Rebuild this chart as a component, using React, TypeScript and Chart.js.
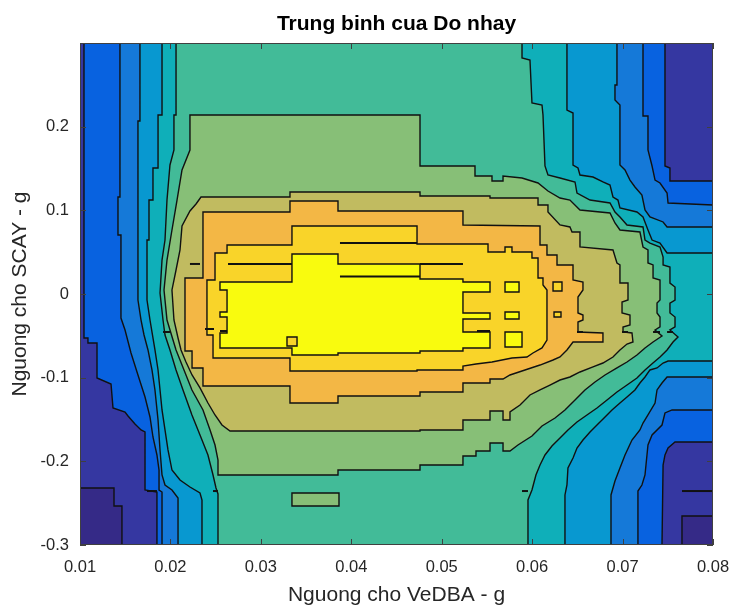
import React, { useEffect, useRef } from 'react';
import { Chart, registerables } from 'chart.js';

Chart.register(...registerables);

type Pt = [number, number];

// axis ticks
const xTicks = [0.01, 0.02, 0.03, 0.04, 0.05, 0.06, 0.07, 0.08];
const yTicks = [-0.3, -0.2, -0.1, 0, 0.1, 0.2];

// level fill colours (parula), index = contour level
const levelColors = ['#352a87', '#3537a1', '#0862e0', '#1579d8', '#0898d0', '#0fafb9', '#42bb98', '#87bf77', '#c1bb60', '#f3b745', '#f9d429', '#f9fb0e'];

// contour regions (x = VeDBA threshold, y = SCAY threshold)
const darkNavyLeft: Pt[] = [[0.01, -0.2319], [0.01376, -0.2319], [0.01376, -0.2534], [0.01464, -0.2534], [0.01464, -0.3], [0.01, -0.3]];
const darkNavyRight: Pt[] = [[0.07657, -0.2653], [0.08, -0.2653], [0.08, -0.3], [0.07657, -0.3]];

const level2: Pt[] = [[0.01044, 0.3], [0.01044, -0.0526], [0.01088, -0.0526], [0.01088, -0.0586], [0.01188, -0.0586], [0.01188, -0.1004], [0.01343, -0.1076], [0.01365, -0.1362], [0.01498, -0.141], [0.01531, -0.1458], [0.01608, -0.1554], [0.01675, -0.1625], [0.01719, -0.1649], [0.01719, -0.2343], [0.01851, -0.2367], [0.01851, -0.3], [0.07436, -0.3], [0.07448, -0.2044], [0.07469, -0.1924], [0.07503, -0.1841], [0.0758, -0.1769], [0.08, -0.1769], [0.08, 0.1351], [0.07524, 0.1351], [0.07524, 0.1506], [0.07469, 0.153], [0.07469, 0.3]];

const level3: Pt[] = [[0.01442, 0.3], [0.01442, 0.1159], [0.0142, 0.1159], [0.0142, 0.0705], [0.01453, 0.0705], [0.01453, -0.0287], [0.01498, -0.043], [0.01564, -0.0705], [0.01641, -0.0968], [0.01719, -0.1231], [0.01774, -0.147], [0.01807, -0.1709], [0.01851, -0.1924], [0.01874, -0.2104], [0.01874, -0.2343], [0.01907, -0.2367], [0.01907, -0.3], [0.0717, -0.3], [0.0717, -0.2355], [0.07214, -0.2283], [0.07248, -0.2163], [0.07281, -0.1805], [0.07326, -0.1685], [0.07436, -0.1566], [0.07469, -0.1422], [0.07547, -0.1386], [0.08, -0.1386], [0.08, 0.1064], [0.07503, 0.1088], [0.07492, 0.1207], [0.07414, 0.1327], [0.07359, 0.1362], [0.07326, 0.153], [0.07281, 0.1721], [0.07281, 0.2127], [0.07226, 0.2127], [0.07226, 0.3]];

const level4: Pt[] = [[0.01663, 0.3], [0.01663, 0.2068], [0.01641, 0.2068], [0.01641, -0.0072], [0.01675, -0.0311], [0.01708, -0.049], [0.01752, -0.0669], [0.01796, -0.0908], [0.01829, -0.1147], [0.01863, -0.1506], [0.01885, -0.1864], [0.01907, -0.2163], [0.0194, -0.2283], [0.02017, -0.2343], [0.02084, -0.2438], [0.02084, -0.3], [0.06872, -0.3], [0.06872, -0.2402], [0.06916, -0.2235], [0.06971, -0.208], [0.07027, -0.1924], [0.07104, -0.1745], [0.07192, -0.1625], [0.07226, -0.1542], [0.07281, -0.1446], [0.07359, -0.1303], [0.07381, -0.1147], [0.07436, -0.1064], [0.07492, -0.0992], [0.08, -0.0992], [0.08, 0.0801], [0.07492, 0.0801], [0.07448, 0.0861], [0.07303, 0.092], [0.07248, 0.1004], [0.07214, 0.1183], [0.07137, 0.1279], [0.07082, 0.1362], [0.07027, 0.1482], [0.06971, 0.1542], [0.06971, 0.2259], [0.06916, 0.2319], [0.06916, 0.2498], [0.06938, 0.2498], [0.06938, 0.3]];

const level5: Pt[] = [[0.01907, 0.3], [0.01907, 0.2139], [0.01863, 0.2139], [0.01863, 0.1506], [0.01807, 0.1506], [0.01807, 0.1123], [0.01763, 0.1123], [0.01763, 0.0645], [0.01741, 0.0645], [0.01741, -0.0072], [0.01774, -0.0311], [0.01829, -0.0669], [0.01863, -0.0908], [0.01885, -0.1147], [0.01907, -0.1386], [0.0194, -0.1625], [0.01973, -0.1864], [0.02017, -0.2104], [0.02106, -0.2223], [0.02216, -0.2307], [0.02327, -0.2378], [0.02349, -0.2462], [0.02349, -0.3], [0.06363, -0.3], [0.06363, -0.2402], [0.06385, -0.2283], [0.06396, -0.208], [0.06452, -0.196], [0.06496, -0.1841], [0.06562, -0.1745], [0.0664, -0.1649], [0.06717, -0.1566], [0.06806, -0.147], [0.06883, -0.1386], [0.06971, -0.1303], [0.07049, -0.1231], [0.07137, -0.1147], [0.07192, -0.1064], [0.07248, -0.0992], [0.07303, -0.0908], [0.07381, -0.0884], [0.07448, -0.0825], [0.07503, -0.0801], [0.08, -0.0801], [0.08, 0.049], [0.07492, 0.049], [0.07414, 0.0609], [0.07326, 0.0645], [0.07281, 0.0765], [0.07226, 0.092], [0.07159, 0.098], [0.06971, 0.1028], [0.06949, 0.1123], [0.06894, 0.1159], [0.06861, 0.1303], [0.06783, 0.1339], [0.06673, 0.1398], [0.06529, 0.1422], [0.06507, 0.1506], [0.06452, 0.1542], [0.06452, 0.2163], [0.06385, 0.2199], [0.06385, 0.3]];

const level6: Pt[] = [[0.02062, 0.3], [0.02062, 0.2139], [0.02039, 0.2139], [0.02039, 0.1721], [0.01995, 0.1542], [0.01962, 0.1123], [0.0194, 0.0645], [0.01907, 0.0406], [0.01885, 0.0012], [0.01918, -0.0311], [0.0194, -0.049], [0.01995, -0.0669], [0.02062, -0.0908], [0.02139, -0.1147], [0.02238, -0.1446], [0.02327, -0.1685], [0.02415, -0.1924], [0.02471, -0.2163], [0.02504, -0.2319], [0.02526, -0.239], [0.02526, -0.3], [0.05954, -0.3], [0.05954, -0.2462], [0.05998, -0.2343], [0.06042, -0.2163], [0.06087, -0.2044], [0.06142, -0.1924], [0.06219, -0.1817], [0.06308, -0.1721], [0.06396, -0.1625], [0.06496, -0.153], [0.06606, -0.1446], [0.06717, -0.1362], [0.06828, -0.1267], [0.06938, -0.1171], [0.07049, -0.1088], [0.07159, -0.1004], [0.07248, -0.0908], [0.07336, -0.0825], [0.07414, -0.0753], [0.07492, -0.0669], [0.07558, -0.0574], [0.07613, -0.0514], [0.07524, -0.043], [0.0758, -0.0394], [0.0758, -0.0275], [0.07524, -0.0227], [0.07524, -0.0108], [0.0758, -0.0072], [0.0758, 0.0084], [0.07524, 0.0131], [0.07524, 0.0323], [0.07448, 0.0347], [0.07448, 0.0442], [0.07414, 0.0562], [0.07303, 0.0609], [0.07248, 0.0645], [0.07226, 0.0801], [0.07049, 0.0825], [0.06971, 0.092], [0.06916, 0.098], [0.06861, 0.1088], [0.0664, 0.1123], [0.06496, 0.1207], [0.06474, 0.1339], [0.06308, 0.1386], [0.06175, 0.1422], [0.06142, 0.153], [0.0612, 0.2139], [0.06109, 0.2259], [0.05998, 0.2283], [0.05976, 0.2797], [0.05888, 0.2821], [0.05888, 0.3]];

const level7: Pt[] = [[0.02216, 0.2139], [0.0476, 0.2139], [0.0476, 0.153], [0.05368, 0.153], [0.05368, 0.141], [0.05556, 0.141], [0.05556, 0.1351], [0.05678, 0.1351], [0.05678, 0.141], [0.05888, 0.1386], [0.06065, 0.1327], [0.06175, 0.1231], [0.06308, 0.1147], [0.06418, 0.1123], [0.06529, 0.1004], [0.06861, 0.0968], [0.06916, 0.0849], [0.06971, 0.0765], [0.07192, 0.0741], [0.07226, 0.0562], [0.07281, 0.0526], [0.07281, 0.0371], [0.07337, 0.0347], [0.07337, 0.0191], [0.07414, 0.0167], [0.07414, -0.0072], [0.07381, -0.0108], [0.07381, -0.0227], [0.07414, -0.0275], [0.07414, -0.0394], [0.07359, -0.043], [0.07436, -0.0502], [0.07337, -0.0574], [0.07248, -0.0645], [0.07159, -0.0729], [0.07049, -0.0813], [0.06938, -0.0884], [0.06806, -0.0968], [0.06695, -0.1052], [0.06584, -0.1147], [0.06474, -0.1267], [0.06363, -0.1386], [0.06253, -0.1482], [0.06109, -0.1578], [0.05998, -0.1697], [0.05843, -0.1805], [0.05755, -0.1876], [0.05678, -0.1876], [0.05678, -0.1781], [0.05534, -0.1781], [0.05534, -0.1876], [0.05379, -0.1876], [0.05379, -0.1936], [0.05235, -0.1936], [0.05235, -0.2044], [0.0476, -0.2044], [0.0476, -0.2104], [0.03853, -0.2104], [0.03853, -0.2163], [0.02526, -0.2163], [0.02526, -0.1984], [0.02493, -0.1805], [0.02438, -0.1625], [0.0236, -0.1386], [0.02238, -0.1147], [0.0215, -0.0908], [0.02062, -0.0669], [0.01962, -0.0311], [0.01929, 0.0048], [0.01962, 0.0406], [0.02017, 0.0765], [0.02073, 0.1123], [0.02128, 0.1482], [0.02216, 0.1721]];

const level7Island: Pt[] = [[0.03344, -0.2378], [0.03864, -0.2378], [0.03864, -0.2534], [0.03344, -0.2534]];

const level8: Pt[] = [[0.02338, 0.1159], [0.03322, 0.1159], [0.03322, 0.1219], [0.0476, 0.1219], [0.0476, 0.1171], [0.05534, 0.1171], [0.05534, 0.1147], [0.06065, 0.1147], [0.06065, 0.1064], [0.06175, 0.1064], [0.06175, 0.098], [0.06308, 0.0825], [0.06418, 0.0801], [0.06441, 0.0741], [0.06529, 0.0741], [0.06529, 0.0562], [0.06894, 0.0526], [0.06938, 0.0371], [0.06971, 0.0347], [0.06971, 0.0131], [0.0706, 0.0131], [0.0706, -0.0072], [0.06994, -0.0096], [0.06994, -0.0227], [0.07082, -0.0251], [0.07082, -0.0371], [0.07005, -0.0394], [0.07005, -0.0454], [0.07104, -0.0466], [0.07115, -0.0574], [0.07049, -0.0598], [0.06971, -0.0669], [0.06894, -0.0753], [0.06783, -0.0825], [0.06673, -0.0872], [0.06529, -0.0932], [0.06418, -0.0992], [0.06308, -0.1028], [0.06197, -0.1088], [0.06087, -0.1147], [0.05976, -0.1207], [0.05866, -0.1327], [0.05755, -0.141], [0.05755, -0.1506], [0.05678, -0.1506], [0.05678, -0.1398], [0.05534, -0.1398], [0.05534, -0.1506], [0.05235, -0.1506], [0.05235, -0.1625], [0.0476, -0.1625], [0.0476, -0.1637], [0.02659, -0.1637], [0.0257, -0.1566], [0.02493, -0.1446], [0.02415, -0.1303], [0.02327, -0.1123], [0.02239, -0.0968], [0.02172, -0.0813], [0.02117, -0.0669], [0.02084, -0.0526], [0.02039, -0.0311], [0.02017, 0.0048], [0.02062, 0.0287], [0.02106, 0.0526], [0.02128, 0.0813], [0.02216, 0.0992], [0.02283, 0.1076]];

const level9: Pt[] = [[0.0236, 0.098], [0.03322, 0.098], [0.03322, 0.1112], [0.03853, 0.1112], [0.03853, 0.0992], [0.05235, 0.0992], [0.05235, 0.0825], [0.06087, 0.0813], [0.06087, 0.0586], [0.06164, 0.0586], [0.06164, 0.0466], [0.06275, 0.0466], [0.06275, 0.0347], [0.06452, 0.0347], [0.06452, 0.0167], [0.06562, 0.0143], [0.06562, 0.0048], [0.06507, -0.0036], [0.06507, -0.0227], [0.06562, -0.0251], [0.06562, -0.0311], [0.06507, -0.0335], [0.06507, -0.0454], [0.06783, -0.0466], [0.06783, -0.0574], [0.06452, -0.0574], [0.06385, -0.0669], [0.06308, -0.0753], [0.06231, -0.0789], [0.06087, -0.0849], [0.05921, -0.0908], [0.05755, -0.0968], [0.05678, -0.1016], [0.05534, -0.1016], [0.05534, -0.1064], [0.05235, -0.1064], [0.05235, -0.1171], [0.0476, -0.1171], [0.0476, -0.1219], [0.03853, -0.1219], [0.03853, -0.1303], [0.03322, -0.1303], [0.03322, -0.11], [0.0236, -0.11], [0.0236, -0.0884], [0.02239, -0.0884], [0.02239, -0.0681], [0.02161, -0.0681], [0.02161, 0.0191], [0.0236, 0.0191]];

const level10: Pt[] = [[0.02626, 0.0586], [0.03344, 0.0586], [0.03344, 0.0813], [0.04727, 0.0813], [0.04727, 0.0598], [0.05512, 0.0598], [0.05512, 0.0502], [0.057, 0.0502], [0.057, 0.0562], [0.05777, 0.0562], [0.05777, 0.0502], [0.05998, 0.0502], [0.05998, 0.043], [0.06065, 0.043], [0.06065, 0.0191], [0.0612, 0.0191], [0.0612, 0.0108], [0.06164, 0.0048], [0.06164, -0.055], [0.06109, -0.0645], [0.06009, -0.0705], [0.05943, -0.0753], [0.05777, -0.0765], [0.05556, -0.0813], [0.05379, -0.0837], [0.05235, -0.0861], [0.05235, -0.0908], [0.04727, -0.0908], [0.04727, -0.092], [0.03322, -0.092], [0.03322, -0.0765], [0.02471, -0.0765], [0.02471, -0.049], [0.02404, -0.049], [0.02404, 0.0167], [0.02493, 0.0167], [0.02493, 0.049], [0.02626, 0.049]];

const level10IslandA: Pt[] = [[0.06231, 0.0143], [0.0633, 0.0143], [0.0633, 0.0036], [0.06231, 0.0036]];
const level10IslandB: Pt[] = [[0.06242, -0.0215], [0.06319, -0.0215], [0.06319, -0.0275], [0.06242, -0.0275]];
const level10IslandC: Pt[] = [[0.03289, -0.0514], [0.034, -0.0514], [0.034, -0.0621], [0.03289, -0.0621]];

const level11: Pt[] = [[0.02548, 0.0143], [0.03344, 0.0143], [0.03344, 0.0478], [0.03853, 0.0478], [0.03853, 0.0359], [0.0476, 0.0359], [0.0476, 0.0179], [0.05235, 0.0179], [0.05235, 0.0143], [0.05534, 0.0143], [0.05534, 0.0024], [0.05235, 0.0024], [0.05235, -0.0227], [0.05534, -0.0227], [0.05534, -0.0299], [0.05235, -0.0299], [0.05235, -0.0454], [0.05534, -0.0454], [0.05534, -0.0645], [0.05235, -0.0645], [0.05235, -0.0681], [0.0476, -0.0681], [0.0476, -0.0705], [0.03853, -0.0705], [0.03853, -0.0729], [0.03344, -0.0729], [0.03344, -0.0645], [0.02548, -0.0645], [0.02548, -0.0466], [0.02626, -0.0466], [0.02626, -0.0275], [0.02548, -0.0275], [0.02548, -0.0215], [0.02626, -0.0215], [0.02626, 0.0048], [0.02548, 0.0048]];

const level11IslandA: Pt[] = [[0.057, 0.0143], [0.05855, 0.0143], [0.05855, 0.0024], [0.057, 0.0024]];
const level11IslandB: Pt[] = [[0.057, -0.0215], [0.05855, -0.0215], [0.05855, -0.0299], [0.057, -0.0299]];
const level11IslandC: Pt[] = [[0.057, -0.0454], [0.05888, -0.0454], [0.05888, -0.0633], [0.057, -0.0633]];

// zero-width contour slivers: [x1, y1, x2, y2]
const slivers: [number, number, number, number][] = [
  [0.03875, 0.061, 0.04727, 0.061],
  [0.02637, 0.0359, 0.03344, 0.0359],
  [0.03875, 0.0209, 0.0476, 0.0209],
  [0.0476, 0.0359, 0.05235, 0.0359],
  [0.02382, -0.0418, 0.02482, -0.0418],
  [0.02548, -0.0442, 0.02626, -0.0442],
  [0.0539, -0.0442, 0.05534, -0.0442],
  [0.06496, -0.0454, 0.06562, -0.0454],
  [0.06994, -0.0454, 0.0706, -0.0454],
  [0.07337, -0.0454, 0.07414, -0.0454],
  [0.07492, -0.0454, 0.07558, -0.0454],
  [0.01741, -0.2355, 0.01851, -0.2355],
  [0.02471, -0.2355, 0.02526, -0.2355],
  [0.05888, -0.2355, 0.05954, -0.2355],
  [0.07657, -0.2355, 0.08, -0.2355],
  [0.02216, 0.0359, 0.02327, 0.0359],
  [0.01918, -0.0454, 0.01995, -0.0454],
];

const regions: { level: number; pts: Pt[] }[] = [
  { level: 0, pts: darkNavyLeft },
  { level: 0, pts: darkNavyRight },
  { level: 2, pts: level2 },
  { level: 3, pts: level3 },
  { level: 4, pts: level4 },
  { level: 5, pts: level5 },
  { level: 6, pts: level6 },
  { level: 7, pts: level7 },
  { level: 7, pts: level7Island },
  { level: 8, pts: level8 },
  { level: 9, pts: level9 },
  { level: 10, pts: level10 },
  { level: 10, pts: level10IslandA },
  { level: 10, pts: level10IslandB },
  { level: 11, pts: level11 },
  { level: 11, pts: level11IslandA },
  { level: 11, pts: level11IslandB },
  { level: 11, pts: level11IslandC },
  { level: 10, pts: level10IslandC },
];

const FONT = "'Liberation Sans', Arial, Helvetica, sans-serif";

const contourPlugin = {
  id: 'contourFill',
  beforeDatasetsDraw(chart: any) {
    const { ctx, chartArea: a, scales } = chart;
    const xs = scales.x;
    const ys = scales.y;
    ctx.save();
    ctx.beginPath();
    ctx.rect(a.left, a.top, a.right - a.left, a.bottom - a.top);
    ctx.clip();
    ctx.fillStyle = levelColors[1];
    ctx.fillRect(a.left, a.top, a.right - a.left, a.bottom - a.top);
    const trace = (pts: Pt[]) => {
      ctx.beginPath();
      pts.forEach(([vx, vy], i) => {
        const px = xs.getPixelForValue(vx);
        const py = ys.getPixelForValue(vy);
        if (i === 0) ctx.moveTo(px, py);
        else ctx.lineTo(px, py);
      });
      ctx.closePath();
    };
    for (const r of regions) {
      trace(r.pts);
      ctx.fillStyle = levelColors[r.level];
      ctx.fill();
    }
    ctx.strokeStyle = '#111111';
    ctx.lineWidth = 1.4;
    ctx.lineJoin = 'miter';
    for (const r of regions) {
      trace(r.pts);
      ctx.stroke();
    }
    for (const [x1, y1, x2, y2] of slivers) {
      ctx.beginPath();
      ctx.moveTo(xs.getPixelForValue(x1), ys.getPixelForValue(y1));
      ctx.lineTo(xs.getPixelForValue(x2), ys.getPixelForValue(y2));
      ctx.lineWidth = 2;
      ctx.stroke();
    }
    ctx.restore();
  },
  afterDatasetsDraw(chart: any) {
    const { ctx, chartArea: a, scales } = chart;
    const xs = scales.x;
    const ys = scales.y;
    ctx.save();
    ctx.strokeStyle = '#404040';
    ctx.lineWidth = 1;
    const tl = 6;
    ctx.beginPath();
    for (const v of xTicks) {
      const px = Math.round(xs.getPixelForValue(v)) + 0.5;
      ctx.moveTo(px, a.bottom);
      ctx.lineTo(px, a.bottom - tl);
      ctx.moveTo(px, a.top);
      ctx.lineTo(px, a.top + tl);
    }
    for (const v of yTicks) {
      const py = Math.round(ys.getPixelForValue(v)) + 0.5;
      ctx.moveTo(a.left, py);
      ctx.lineTo(a.left + tl, py);
      ctx.moveTo(a.right, py);
      ctx.lineTo(a.right - tl, py);
    }
    ctx.stroke();
    ctx.strokeRect(Math.round(a.left) + 0.5, Math.round(a.top) + 0.5, Math.round(a.right - a.left) - 1, Math.round(a.bottom - a.top) - 1);
    ctx.restore();
  },
};

export default function App() {
  const canvasRef = useRef<HTMLCanvasElement | null>(null);

  useEffect(() => {
    const canvas = canvasRef.current;
    if (!canvas) return;
    const chart = new Chart(canvas, {
      type: 'scatter',
      data: { datasets: [] },
      options: {
        animation: false,
        responsive: false,
        maintainAspectRatio: false,
        layout: { padding: { left: 0, right: 18, top: 0, bottom: 0 } },
        plugins: {
          legend: { display: false },
          tooltip: { enabled: false },
          title: {
            display: true,
            text: 'Trung binh cua Do nhay',
            fullSize: false,
            color: '#000000',
            font: { family: FONT, size: 21, weight: 'bold', lineHeight: 1.2 },
            padding: { top: 12, bottom: 5.8 },
          },
        },
        scales: {
          x: {
            type: 'linear',
            min: 0.01,
            max: 0.08,
            afterBuildTicks: (s: any) => {
              s.ticks = xTicks.map((v) => ({ value: v }));
            },
            afterFit: (s: any) => {
              s.height = 61;
              s.paddingLeft = 0;
              s.paddingRight = 0;
            },
            grid: { display: false },
            border: { display: false },
            ticks: {
              autoSkip: false,
              maxRotation: 0,
              padding: 5,
              color: '#262626',
              font: { family: FONT, size: 16.5 },
              callback: (v: any) => Number(v).toFixed(2),
            },
            title: {
              display: true,
              text: 'Nguong cho VeDBA - g',
              color: '#262626',
              font: { family: FONT, size: 21, lineHeight: 1 },
              padding: { top: 0, bottom: 0 },
            },
          },
          y: {
            type: 'linear',
            min: -0.3,
            max: 0.3,
            afterBuildTicks: (s: any) => {
              s.ticks = yTicks.map((v) => ({ value: v }));
            },
            afterFit: (s: any) => {
              s.width = 80;
              s.paddingTop = 0;
              s.paddingBottom = 0;
            },
            grid: { display: false },
            border: { display: false },
            ticks: {
              autoSkip: false,
              padding: 3,
              color: '#262626',
              font: { family: FONT, size: 16.5 },
              callback: (v: any) => {
                const n = Math.round(Number(v) * 10) / 10;
                return n === 0 ? '0' : String(n);
              },
            },
            title: {
              display: true,
              text: 'Nguong cho SCAY - g',
              color: '#262626',
              font: { family: FONT, size: 21, lineHeight: 1 },
              padding: { top: 10, bottom: 0 },
            },
          },
        },
      },
      plugins: [contourPlugin],
    } as any);
    return () => chart.destroy();
  }, []);

  return (
    <div style={{ position: 'fixed', left: 0, top: 0, width: 731, height: 606, background: '#ffffff' }}>
      <canvas ref={canvasRef} width={731} height={606} style={{ display: 'block', width: 731, height: 606 }} />
    </div>
  );
}
